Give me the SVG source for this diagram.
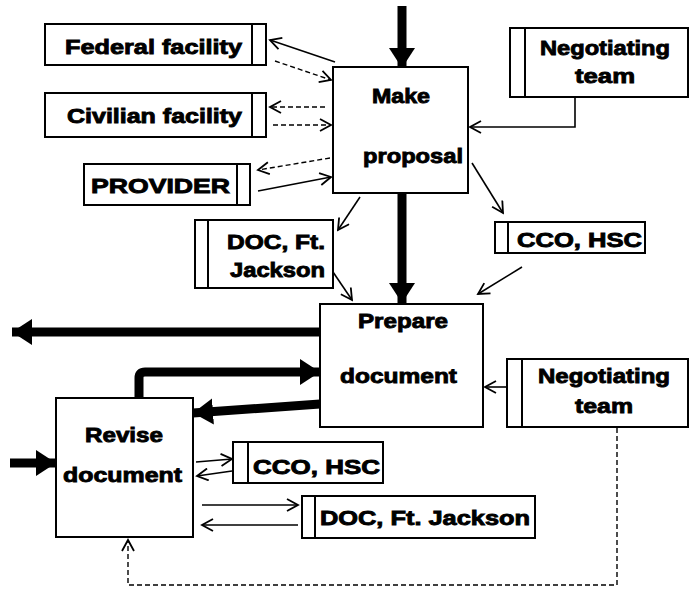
<svg xmlns="http://www.w3.org/2000/svg" width="698" height="592" viewBox="0 0 698 592">
  <style>
    .box { fill: #fff; stroke: #000; stroke-width: 2; }
    .div { stroke: #000; stroke-width: 2; fill: none; }
    .lbl { font-family: "Liberation Sans", Arial, sans-serif; font-weight: bold; font-size: 21px; fill: #000; stroke: #000; stroke-width: 0.9; text-anchor: start; }
    .thin { stroke: #000; stroke-width: 1.6; fill: none; marker-end: url(#open); }
    .dash { stroke: #000; stroke-width: 1.4; fill: none; stroke-dasharray: 5 3; marker-end: url(#open); }
    .thick { stroke: #000; stroke-width: 9; fill: none; marker-end: url(#solid); }
  </style>
  <defs>
    <marker id="open" markerUnits="userSpaceOnUse" markerWidth="14" markerHeight="14" refX="12" refY="7" orient="auto">
      <path d="M1,1 L12,7 L1,13" fill="none" stroke="#000" stroke-width="1.8" stroke-dasharray="none"/>
    </marker>
    <marker id="solid" markerUnits="userSpaceOnUse" markerWidth="22" markerHeight="28" refX="20" refY="14" orient="auto">
      <path d="M0,1 L20,14 L0,27 z" fill="#000"/>
    </marker>
  </defs>
  <rect width="698" height="592" fill="#fff"/>

  <g id="connectors">
    <!-- thick main flow -->
    <path class="thick" d="M402,6 L402,68"/>
    <path class="thick" d="M402,193 L402,303"/>
    <path class="thick" d="M320,332 L12,332"/>
    <path class="thick" d="M139,398 L139,378 Q139,372 145,372 L320,372"/>
    <path class="thick" d="M320,404 L193,413"/>
    <path class="thick" d="M10,463 L56,463"/>
    <!-- external parties around Make proposal -->
    <path class="thin" d="M335,62 L270,40"/>
    <path class="dash" d="M275,61 L331,80"/>
    <path class="dash" d="M325,107 L270,107"/>
    <path class="dash" d="M273,125 L331,125"/>
    <path class="dash" d="M330,158 L258,170"/>
    <path class="thin" d="M258,191 L331,177"/>
    <path class="thin" d="M575,97 L575,127 L470,127"/>
    <path class="thin" d="M472,163 L503,213"/>
    <path class="thin" d="M360,197 L338,230"/>
    <path class="thin" d="M333,272 L352,300"/>
    <path class="thin" d="M522,267 L478,294"/>
    <!-- Prepare document inputs -->
    <path class="thin" d="M507,387 L485,387"/>
    <!-- Revise document exchanges -->
    <path class="thin" d="M196,462 L232,459"/>
    <path class="thin" d="M232,471 L197,476"/>
    <path class="thin" d="M202,505 L298,505"/>
    <path class="thin" d="M298,525 L202,525"/>
    <path class="dash" d="M617,428 L617,585 L128,585 L128,540"/>
  </g>

  <g id="federal-facility">
    <rect class="box" x="45" y="24" width="221" height="41"/>
    <line class="div" x1="252" y1="24" x2="252" y2="65"/>
    <text class="lbl" x="65" y="54" textLength="177" lengthAdjust="spacingAndGlyphs">Federal facility</text>
  </g>
  <g id="civilian-facility">
    <rect class="box" x="45" y="93" width="221" height="44"/>
    <line class="div" x1="252" y1="93" x2="252" y2="137"/>
    <text class="lbl" x="67" y="123" textLength="175" lengthAdjust="spacingAndGlyphs">Civilian facility</text>
  </g>
  <g id="provider">
    <rect class="box" x="84" y="164" width="166" height="41"/>
    <line class="div" x1="237" y1="164" x2="237" y2="205"/>
    <text class="lbl" x="91" y="193" textLength="139" lengthAdjust="spacingAndGlyphs">PROVIDER</text>
  </g>
  <g id="make-proposal">
    <rect class="box" x="333" y="67" width="135" height="126"/>
    <text class="lbl" x="372" y="103" textLength="58" lengthAdjust="spacingAndGlyphs">Make</text>
    <text class="lbl" x="363" y="163" textLength="100" lengthAdjust="spacingAndGlyphs">proposal</text>
  </g>
  <g id="negotiating-team-1">
    <rect class="box" x="510" y="28" width="178" height="69"/>
    <line class="div" x1="525" y1="28" x2="525" y2="97"/>
    <text class="lbl" x="540" y="55" textLength="130" lengthAdjust="spacingAndGlyphs">Negotiating</text>
    <text class="lbl" x="575" y="83" textLength="60" lengthAdjust="spacingAndGlyphs">team</text>
  </g>
  <g id="doc-ft-jackson-1">
    <rect class="box" x="195" y="220" width="138" height="68"/>
    <line class="div" x1="208" y1="220" x2="208" y2="288"/>
    <text class="lbl" x="227" y="249" textLength="98" lengthAdjust="spacingAndGlyphs">DOC, Ft.</text>
    <text class="lbl" x="230" y="277" textLength="95" lengthAdjust="spacingAndGlyphs">Jackson</text>
  </g>
  <g id="cco-hsc-1">
    <rect class="box" x="495" y="222" width="150" height="31"/>
    <line class="div" x1="508" y1="222" x2="508" y2="253"/>
    <text class="lbl" x="517" y="247" textLength="125" lengthAdjust="spacingAndGlyphs">CCO, HSC</text>
  </g>
  <g id="prepare-document">
    <rect class="box" x="320" y="304" width="163" height="123"/>
    <text class="lbl" x="358" y="328" textLength="90" lengthAdjust="spacingAndGlyphs">Prepare</text>
    <text class="lbl" x="340" y="383" textLength="117" lengthAdjust="spacingAndGlyphs">document</text>
  </g>
  <g id="negotiating-team-2">
    <rect class="box" x="507" y="359" width="181" height="68"/>
    <line class="div" x1="522" y1="359" x2="522" y2="427"/>
    <text class="lbl" x="538" y="383" textLength="132" lengthAdjust="spacingAndGlyphs">Negotiating</text>
    <text class="lbl" x="575" y="413" textLength="58" lengthAdjust="spacingAndGlyphs">team</text>
  </g>
  <g id="revise-document">
    <rect class="box" x="56" y="398" width="137" height="139"/>
    <text class="lbl" x="85" y="442" textLength="78" lengthAdjust="spacingAndGlyphs">Revise</text>
    <text class="lbl" x="63" y="482" textLength="119" lengthAdjust="spacingAndGlyphs">document</text>
  </g>
  <g id="cco-hsc-2">
    <rect class="box" x="233" y="442" width="150" height="41"/>
    <line class="div" x1="248" y1="442" x2="248" y2="483"/>
    <text class="lbl" x="253" y="474" textLength="127" lengthAdjust="spacingAndGlyphs">CCO, HSC</text>
  </g>
  <g id="doc-ft-jackson-2">
    <rect class="box" x="302" y="496" width="233" height="42"/>
    <line class="div" x1="315" y1="496" x2="315" y2="538"/>
    <text class="lbl" x="320" y="525" textLength="210" lengthAdjust="spacingAndGlyphs">DOC, Ft. Jackson</text>
  </g>
</svg>
